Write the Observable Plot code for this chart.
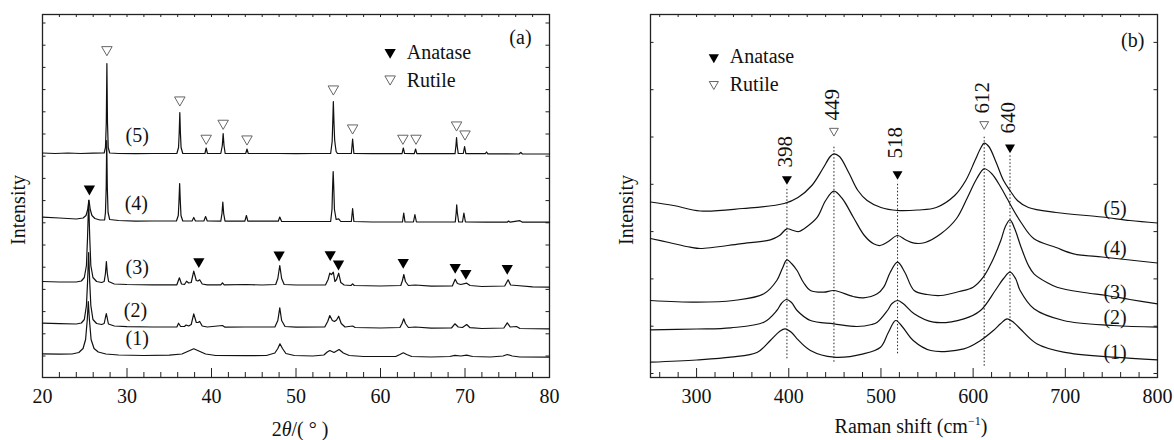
<!DOCTYPE html>
<html><head><meta charset="utf-8">
<script src="https://cdn.jsdelivr.net/npm/d3@7"></script>
<script src="https://cdn.jsdelivr.net/npm/@observablehq/plot@0.6"></script>
<style>
html,body{margin:0;padding:0;background:#fff;}
#wrap{display:flex;width:1174px;height:440px;overflow:hidden;}
svg{display:block;}
</style></head><body><div id="wrap"></div>
<script>
// ---------- Panel (a): XRD patterns, [2θ, offset intensity (a.u.)] ----------
const xrd5 = [[20,224.5],[21.5,224],[23,224.5],[24.5,224],[26,224.3],[27.3,224.5],[27.45,230],[27.55,255],[27.62,314],[27.69,255],[27.78,230],[27.95,224.5],[29,224],[31,223.8],[33,224],[35.9,224],[36.1,230],[36.18,245],[36.25,265],[36.32,245],[36.4,230],[36.6,224],[38,224],[39.22,224],[39.37,229.5],[39.52,224],[41.1,224],[41.28,232],[41.38,244],[41.48,232],[41.62,224],[44.05,224],[44.2,228.5],[44.35,224],[46,224],[48,224],[50,223.8],[52,224],[54.1,224],[54.28,236],[54.36,258],[54.42,276],[54.49,256],[54.57,238],[54.65,232],[54.75,226],[54.9,224],[56.55,224],[56.7,238.5],[56.85,224],[59,223.8],[62.55,223.8],[62.7,229.5],[62.85,224],[64.0,223.8],[64.15,228.5],[64.3,223.8],[66,223.8],[68.82,223.8],[68.93,232],[69.0,240],[69.07,232],[69.2,224],[69.8,224],[69.95,231],[70.1,223.8],[72.4,223.8],[72.55,225.5],[72.7,223.7],[76.4,223.5],[76.6,225],[76.8,223.5],[80,223.5]];
const xrd4 = [[20,160.3],[22,159.5],[24,158.5],[24.8,159.5],[25.15,162],[25.35,168],[25.5,177.5],[25.65,168],[25.85,162],[26.2,159],[26.8,157.5],[27.35,157.5],[27.45,165],[27.54,190],[27.6,237],[27.67,190],[27.76,165],[27.95,158],[29,157],[31,156.3],[33,156.5],[35.85,156.5],[36.07,162],[36.15,176],[36.23,194],[36.31,176],[36.39,162],[36.6,156.5],[37.7,156.5],[37.9,160],[38.1,156.5],[39.1,156.5],[39.3,161],[39.5,156.5],[41.1,156.3],[41.24,164],[41.34,175.5],[41.44,164],[41.6,156.3],[43.95,156.3],[44.13,162],[44.3,156.3],[47.9,156.3],[48.08,160.5],[48.3,156],[51,156],[54.1,156],[54.26,168],[54.33,190],[54.4,206],[54.47,190],[54.55,168],[54.75,158],[55.05,158.7],[55.3,156],[56.55,156],[56.7,169],[56.85,156],[59,155.5],[62.6,155.5],[62.75,164.3],[62.9,155.5],[63.9,155.5],[64.07,163],[64.25,155.5],[68.85,155.5],[68.96,165],[69.02,172.7],[69.09,165],[69.25,155.5],[69.7,155.5],[69.87,164.3],[70.05,155.5],[72.5,155.3],[75,155.3],[75.15,156.5],[75.35,155.3],[76.5,156.8],[76.8,155.3],[80,155.3]];
const xrd3 = [[20,96],[22,95.5],[24,95.5],[24.6,96.5],[24.95,100],[25.2,112],[25.33,140],[25.46,177],[25.59,140],[25.72,112],[25.97,100],[26.4,96],[27.0,95],[27.3,96],[27.45,104],[27.56,116],[27.67,104],[27.82,96],[28.5,93.5],[30,93],[33,92.7],[35.9,92.7],[36.2,99.7],[36.45,93.5],[36.8,93],[37.05,96.3],[37.3,94.5],[37.6,95],[37.9,106.3],[38.2,97],[38.4,96.5],[38.6,97.7],[38.9,93.5],[39.5,92.7],[41.1,92.7],[41.3,94.7],[41.5,92.7],[44.1,93],[46,92.5],[47.6,93],[47.85,99],[48.08,112],[48.3,99],[48.6,93],[50,92.5],[53.5,92.7],[53.8,98],[54.0,104.3],[54.2,103],[54.42,105.3],[54.6,96],[54.8,98],[55.05,104.3],[55.3,95],[55.7,92.5],[56.5,92],[56.7,93.7],[56.9,92],[60,91.5],[62.4,92],[62.6,97],[62.76,103],[62.95,96],[63.3,92],[64.1,92.5],[66,91.3],[68.5,91.5],[68.84,98.3],[69.1,94],[69.5,93],[70.2,94.3],[70.6,92],[72,91],[74.7,91.5],[75.1,97.7],[75.4,92.5],[76.1,92],[78,90.7],[80,90.3]];
const xrd2 = [[20,54.3],[22,53.8],[24,53.5],[24.6,54.5],[24.95,58],[25.2,72],[25.33,95],[25.46,125],[25.59,95],[25.72,72],[25.97,58],[26.4,54],[27.0,53],[27.3,54],[27.45,60],[27.55,64],[27.65,60],[27.8,53.5],[28.5,51.5],[30,50.8],[33,50.5],[35.9,50.5],[36.1,54.3],[36.35,51],[36.8,51],[37.0,52.5],[37.3,51.5],[37.6,53],[37.9,63.7],[38.2,55],[38.4,55],[38.6,56],[38.9,51.5],[39.5,50.5],[41.3,52],[41.6,50.3],[44,50.5],[47.5,50.5],[47.85,57],[48.08,69.7],[48.3,57],[48.7,51],[50,50.3],[53.4,50.5],[53.75,56],[54.0,62],[54.3,57],[54.55,56],[54.8,57.5],[55.05,61.3],[55.35,54],[55.8,50.5],[56.7,51.5],[57,50],[60,49.5],[62.3,50],[62.55,54],[62.75,58.7],[62.95,54],[63.3,50],[64.1,50.5],[66,49.3],[68.4,49.5],[68.8,53.7],[69.2,50.5],[69.7,50],[70.2,53],[70.6,49.8],[72,49],[74.6,49.5],[75.0,54.7],[75.35,50.5],[76.1,51],[76.5,49],[80,48.7]];
const xrd1 = [[20,23.7],[22,23.3],[23.5,23.5],[24.3,25],[24.8,29],[25.1,38],[25.3,58],[25.42,76],[25.55,58],[25.75,38],[26.1,29],[26.6,25.5],[27.5,23.5],[29,22.5],[32,22],[35,22.3],[36.5,23.5],[37.3,26.5],[37.9,28.7],[38.5,26.5],[39.3,23.5],[40.5,22],[44,21.8],[46.5,22],[47.5,24.5],[47.85,29],[48.1,33.7],[48.4,29],[48.8,24],[49.8,22],[52,21.5],[53.3,22.5],[53.7,25.5],[54.0,27],[54.5,25],[55.1,28],[55.6,24.5],[56.3,22],[58,21],[61.8,21],[62.3,23],[62.7,24.7],[63.1,23],[63.7,21],[66,20.5],[68.2,21],[68.8,22.2],[69.5,21.5],[70.2,22.3],[70.9,21],[73,20.5],[74.5,21.5],[75.0,23],[75.6,21.5],[76.5,20.5],[80,20.3]];

const xrdRutileX = [27.62,36.25,39.37,41.38,44.2,54.42,56.7,62.65,64.2,69.0,70.0];
const xrdRutileY = [326.3,276,237.7,252.7,237,287,248,237.7,237.7,251,242];
const xrdAnataseX = [25.55,38.5,48.0,54.05,55.03,62.69,68.84,70.1,75.0];
const xrdAnataseY = [187,114.3,121,121.3,112,113.7,108.7,102.7,107.7];

const sampleNames = ["(1)","(2)","(3)","(4)","(5)"];
const xrdLabelX = [31.2,31.0,31.2,31.1,31.2];
const xrdLabelY = [38.7,67,110.3,174,242];

const xrdMajor = [20,30,40,50,60,70,80];
const xrdMinor = [22,24,26,28,32,34,36,38,42,44,46,48,52,54,56,58,62,64,66,68,72,74,76,78];
const xrdYTicks = [21.5,43.7,65.9,88.1,110.3,132.5,154.7,176.9,199.1,221.3,243.5,265.7,287.9,310.1,332.3,354.5];

// ---------- Panel (b): Raman spectra, [shift cm-1, offset intensity (a.u.)] ----------
const raman5 = [[250,175.5],[275,172],[304,166.5],[350,169],[395,174],[410,180],[425,192],[437,209],[445,221],[449,223.7],[455,221],[465,205],[475,187],[485,177],[500,170],[518,167],[540,167.5],[560,170],[580,182],[592,197],[602,217],[608,229],[612,234.3],[617,231],[625,215],[633,197],[640,187],[648,177],[660,170],[690,165],[740,160.5],[770,157],[800,154.5]];
const raman4 = [[250,139],[270,135],[293,130.3],[304,129],[347,133.7],[380,137.7],[390,142],[398,148.7],[405,147],[411,146],[420,151],[431,160.3],[440,177],[449,186.3],[458,179],[470,160.3],[482,142],[492,133.7],[499,132],[508,136],[518,142],[527,137.5],[536,134.3],[548,135],[565,143.7],[582,159],[594,180.3],[604,199],[612,208.7],[620,204],[630,190.3],[637,178.7],[642,170.3],[652,155],[666,138.7],[690,130],[709,123.7],[740,120.5],[770,117.5],[800,114.5]];
const raman3 = [[250,77],[300,75.3],[340,77],[373,83.7],[387,97],[393,109],[398,117.7],[403,114],[409,107],[416,95],[423.5,87],[438,85.3],[449,87],[470,81],[481,79.7],[496,83.7],[503,90.3],[510,105],[518,115.3],[526,105],[536,87],[550,83],[565,82],[585,86],[600,90.3],[611,100.3],[620,115],[630,137],[635,151],[640,157.7],[645,149],[652,130.3],[660,112],[666,103.7],[680,95],[691,90.3],[720,85],[745,82],[770,78],[800,73.7]];
const raman2 = [[250,47.7],[300,48.5],[337,49.7],[373,55.3],[387,67],[392,74],[397.5,78],[403,75],[409,67],[423.5,57],[449,53.7],[474,51],[490,53],[496,55.3],[507,67],[512,74],[518,77],[524,74],[536,63.7],[557,55.3],[590,58.7],[608,67],[624,87],[633,99],[640,105.3],[646,99],[651,87],[666,68.7],[698,57],[752,52],[800,50.3]];
const raman1 = [[250,15.3],[300,17.5],[337,20.3],[366,25.3],[380,37],[390,46],[396,48.7],[403,45],[409,38.7],[423.5,27],[449,20.3],[481,23.7],[499.5,30.3],[508,45],[516,57],[523,51],[535,37],[554,27],[590,28.7],[608,37],[622,47],[630,54],[637,58.7],[644,55],[651,48.7],[669,33.7],[698,25.3],[752,20.3],[800,17.7]];

const ramanPeakPos = [398,449,518,612,640];
const ramanPeakPhase = ["Anatase","Rutile","Anatase","Rutile","Anatase"];
const ramanMarkerY = [197,245.3,202,252,228.7];
const ramanLabelY = [210,257,219,264,244];
const ramanRuleTop = [190.3,232,195.3,242,222];
const ramanRuleBottom = [18.7,15.3,23.7,11.3,48.7];

const ramanLabelX = [754,754,754,754,754];
const ramanLabelY2 = [25.3,60.3,85.3,128.7,168.7];

const ramanMajor = [300,400,500,600,700,800];
const ramanMinor = [260,280,320,340,360,380,420,440,460,480,520,540,560,580,620,640,660,680,720,740,760,780];
const ramanYTicks = [4,51.3,98.6,145.9,193.2,240.5,287.8,335.1];

// ---------- drawing ----------
const FONT = "'Liberation Serif','Times New Roman',Times,serif";
const H = 440, MT = 14, MB = 63, INNER_H = H - MT - MB;

// downward triangle symbol (bbox centred)
const triDown = {
  draw(ctx, size) {
    const s = Math.sqrt(size * 4 / Math.sqrt(3));
    const h = s * 0.87;
    ctx.moveTo(-s / 2, -h / 2);
    ctx.lineTo(s / 2, -h / 2);
    ctx.lineTo(0, h / 2);
    ctx.closePath();
  }
};

function frameTicks(innerW, major, minor, yTicks) {
  const all = major.concat(minor);
  return [
    Plot.tickX(major, {x: d => d, insetTop: INNER_H - 9, stroke: "#222", strokeWidth: 1}),
    Plot.tickX(minor, {x: d => d, insetTop: INNER_H - 5, stroke: "#222", strokeWidth: 1}),
    Plot.tickX(all, {x: d => d, insetBottom: INNER_H - 3, stroke: "#222", strokeWidth: 1}),
    Plot.tickY(yTicks, {y: d => d, insetRight: innerW - 3.5, stroke: "#222", strokeWidth: 1}),
    Plot.tickY(yTicks, {y: d => d, insetLeft: innerW - 3.5, stroke: "#222", strokeWidth: 1})
  ];
}

// Panel (a)
const WA = 580, MLA = 42, MRA = 31;
const rutA = xrdRutileX.map((x, i) => ({x, y: xrdRutileY[i]}));
const anaA = xrdAnataseX.map((x, i) => ({x, y: xrdAnataseY[i]}));
const labA = sampleNames.map((t, i) => ({t, x: xrdLabelX[i], y: xrdLabelY[i]}));
const chartA = Plot.plot({
  width: WA, height: H, marginLeft: MLA, marginRight: MRA, marginTop: MT, marginBottom: MB,
  style: {fontFamily: FONT, fontSize: "20px", color: "#111", background: "white"},
  x: {domain: [20, 80]},
  y: {domain: [0, INNER_H], axis: null},
  marks: [
    ...frameTicks(WA - MLA - MRA, xrdMajor, xrdMinor, xrdYTicks),
    Plot.frame({stroke: "#222", strokeWidth: 1.3}),
    Plot.axisX({ticks: xrdMajor, tickSize: 0, tickPadding: 11, label: null, tickFormat: d => String(d), fontSize: 20}),
    ...[xrd1, xrd2, xrd3, xrd4, xrd5].map(s => Plot.line(s, {x: d => d[0], y: d => d[1], stroke: "#111", strokeWidth: 1.2, curve: "linear"})),
    Plot.dot(anaA, {x: "x", y: "y", symbol: triDown, r: 4.2, fill: "#000", stroke: "none"}),
    Plot.dot(rutA, {x: "x", y: "y", symbol: triDown, r: 3.9, fill: "white", stroke: "#666", strokeWidth: 1}),
    Plot.text(labA, {x: "x", y: "y", text: "t", fontSize: 20, textAnchor: "middle", lineAnchor: "middle"}),
    Plot.dot([{x: 61.14, y: 323.7}], {x: "x", y: "y", symbol: triDown, r: 4.2, fill: "#000", stroke: "none"}),
    Plot.dot([{x: 61.14, y: 297}], {x: "x", y: "y", symbol: triDown, r: 3.9, fill: "white", stroke: "#666", strokeWidth: 1}),
    Plot.text([{x: 63.1, y: 324.5, t: "Anatase"}, {x: 63.1, y: 296.5, t: "Rutile"}], {x: "x", y: "y", text: "t", fontSize: 20, textAnchor: "start", lineAnchor: "middle"}),
    Plot.text([{x: 76.56, y: 340.3, t: "(a)"}], {x: "x", y: "y", text: "t", fontSize: 20, textAnchor: "middle", lineAnchor: "middle"})
  ]
});

// Panel (b)
const WB = 594, MLB = 70, MRB = 17;
const peaksB = ramanPeakPos.map((p, i) => ({p, phase: ramanPeakPhase[i], my: ramanMarkerY[i], ly: ramanLabelY[i], y1: ramanRuleBottom[i], y2: ramanRuleTop[i]}));
const labB = sampleNames.map((t, i) => ({t, x: ramanLabelX[i], y: ramanLabelY2[i]}));
const chartB = Plot.plot({
  width: WB, height: H, marginLeft: MLB, marginRight: MRB, marginTop: MT, marginBottom: MB,
  style: {fontFamily: FONT, fontSize: "20px", color: "#111", background: "white"},
  x: {domain: [250, 800]},
  y: {domain: [0, INNER_H], axis: null},
  marks: [
    ...frameTicks(WB - MLB - MRB, ramanMajor, ramanMinor, ramanYTicks),
    Plot.frame({stroke: "#222", strokeWidth: 1.3}),
    Plot.axisX({ticks: ramanMajor, tickSize: 0, tickPadding: 11, label: null, tickFormat: d => String(d), fontSize: 20}),
    Plot.ruleX(peaksB, {x: "p", y1: "y1", y2: "y2", stroke: "#222", strokeWidth: 1, strokeDasharray: "1.5,2"}),
    ...[raman1, raman2, raman3, raman4, raman5].map(s => Plot.line(s, {x: d => d[0], y: d => d[1], stroke: "#111", strokeWidth: 1.2, curve: "catmull-rom"})),
    Plot.dot(peaksB.filter(d => d.phase === "Anatase"), {x: "p", y: "my", symbol: triDown, r: 3.7, fill: "#000", stroke: "none"}),
    Plot.dot(peaksB.filter(d => d.phase === "Rutile"), {x: "p", y: "my", symbol: triDown, r: 3.3, fill: "white", stroke: "#666", strokeWidth: 1}),
    Plot.text(peaksB, {x: "p", y: "ly", text: d => String(d.p), rotate: -90, textAnchor: "start", lineAnchor: "middle", fontSize: 21, dx: -2}),
    Plot.text(labB, {x: "x", y: "y", text: "t", fontSize: 20, textAnchor: "middle", lineAnchor: "middle"}),
    Plot.dot([{x: 318.7, y: 318.7}], {x: "x", y: "y", symbol: triDown, r: 3.8, fill: "#000", stroke: "none"}),
    Plot.dot([{x: 318.7, y: 292}], {x: "x", y: "y", symbol: triDown, r: 3.4, fill: "white", stroke: "#666", strokeWidth: 1}),
    Plot.text([{x: 336, y: 321, t: "Anatase"}, {x: 336, y: 293, t: "Rutile"}], {x: "x", y: "y", text: "t", fontSize: 20, textAnchor: "start", lineAnchor: "middle"}),
    Plot.text([{x: 773.1, y: 337, t: "(b)"}], {x: "x", y: "y", text: "t", fontSize: 20, textAnchor: "middle", lineAnchor: "middle"})
  ]
});

const wrap = document.getElementById("wrap");
wrap.appendChild(chartA);
wrap.appendChild(chartB);

// axis titles (mixed styles need tspans)
function yTitle(svg, x, y) {
  d3.select(svg).append("text")
    .attr("transform", `translate(${x},${y}) rotate(-90)`)
    .attr("text-anchor", "middle")
    .style("font-family", FONT).style("font-size", "20px").attr("fill", "#111")
    .text("Intensity");
}
yTitle(chartA, 25, 210);
yTitle(chartB, 53, 210);

const tA = d3.select(chartA).append("text")
  .attr("x", 300).attr("y", 436).attr("text-anchor", "middle")
  .style("font-family", FONT).style("font-size", "20px").attr("fill", "#111");
tA.append("tspan").text("2");
tA.append("tspan").style("font-style", "italic").text("θ");
tA.append("tspan").text("/( ° )");

const tB = d3.select(chartB).append("text")
  .attr("x", 331).attr("y", 433).attr("text-anchor", "middle")
  .style("font-family", FONT).style("font-size", "20px").attr("fill", "#111");
tB.append("tspan").text("Raman shift (cm");
tB.append("tspan").attr("dy", -8).style("font-size", "12px").text("−1");
tB.append("tspan").attr("dy", 8).text(")");
</script>
</body></html>
